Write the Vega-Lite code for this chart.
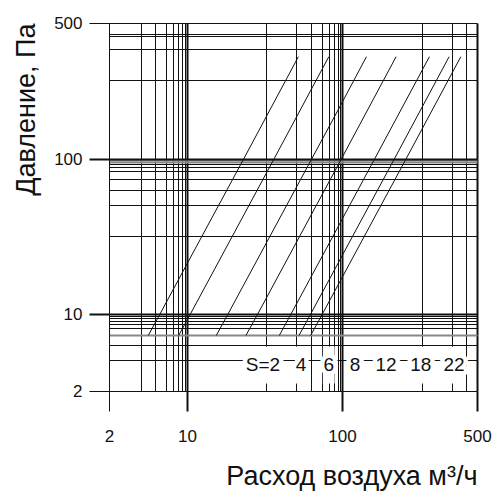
{
  "$schema": "https://vega.github.io/schema/vega-lite/v6.json",
  "width": 368,
  "height": 368,
  "autosize": {"type": "none"},
  "padding": {"left": 109, "top": 23, "right": 23, "bottom": 109},
  "background": "white",
  "datasets": {
    "lines": [
      {"s": 2, "flow": 4.5, "pressure": 6.39},
      {"s": 2, "flow": 5.73, "pressure": 10},
      {"s": 2, "flow": 10, "pressure": 21.05},
      {"s": 2, "flow": 23.2, "pressure": 100},
      {"s": 2, "flow": 52.3, "pressure": 335.5},
      {"s": 4, "flow": 8.43, "pressure": 6.39},
      {"s": 4, "flow": 10, "pressure": 8.78},
      {"s": 4, "flow": 10.52, "pressure": 10},
      {"s": 4, "flow": 36.4, "pressure": 100},
      {"s": 4, "flow": 82.2, "pressure": 335.5},
      {"s": 6, "flow": 15.45, "pressure": 6.39},
      {"s": 6, "flow": 18.39, "pressure": 10},
      {"s": 6, "flow": 63.7, "pressure": 100},
      {"s": 6, "flow": 100, "pressure": 194.7},
      {"s": 6, "flow": 133.8, "pressure": 335.5},
      {"s": 8, "flow": 24.0, "pressure": 6.39},
      {"s": 8, "flow": 28.6, "pressure": 10},
      {"s": 8, "flow": 99.0, "pressure": 100},
      {"s": 8, "flow": 100, "pressure": 101.5},
      {"s": 8, "flow": 190.6, "pressure": 335.5},
      {"s": 12, "flow": 39.4, "pressure": 6.39},
      {"s": 12, "flow": 46.9, "pressure": 10},
      {"s": 12, "flow": 100, "pressure": 40.7},
      {"s": 12, "flow": 147.5, "pressure": 100},
      {"s": 12, "flow": 283.5, "pressure": 335.5},
      {"s": 18, "flow": 52.8, "pressure": 6.39},
      {"s": 18, "flow": 62.8, "pressure": 10},
      {"s": 18, "flow": 100, "pressure": 23.7},
      {"s": 18, "flow": 186.6, "pressure": 100},
      {"s": 18, "flow": 358.6, "pressure": 335.5},
      {"s": 22, "flow": 62.8, "pressure": 6.39},
      {"s": 22, "flow": 74.7, "pressure": 10},
      {"s": 22, "flow": 100, "pressure": 17.15},
      {"s": 22, "flow": 214.5, "pressure": 100},
      {"s": 22, "flow": 412.3, "pressure": 335.5}
    ],
    "labels": [
      {"s": 2, "label": "S=2", "flow": 30.9, "pressure": 3.44},
      {"s": 4, "label": "4", "flow": 54.4, "pressure": 3.44},
      {"s": 6, "label": "6", "flow": 82.1, "pressure": 3.44},
      {"s": 8, "label": "8", "flow": 116.8, "pressure": 3.44},
      {"s": 12, "label": "12", "flow": 169, "pressure": 3.44},
      {"s": 18, "label": "18", "flow": 256, "pressure": 3.44},
      {"s": 22, "label": "22", "flow": 380, "pressure": 3.44}
    ]
  },
  "encoding": {
    "x": {
      "field": "flow",
      "type": "quantitative",
      "scale": {
        "type": "log",
        "domain": [2, 10, 100, 500],
        "range": [0, 78, 233, 368],
        "nice": false,
        "zero": false
      },
      "axis": {
        "values": [2, 3.87, 5.17, 6.49, 7.48, 8.3, 9.02, 9.6, 10, 32.3, 50.5, 63.1, 74.3, 82.4, 88.8, 94.2, 97.1, 100, 259, 372, 439, 500],
        "grid": true,
        "gridColor": "#111",
        "gridOpacity": 1,
        "gridWidth": {"condition": {"test": "datum.value == 10 || datum.value == 100 || datum.value == 500", "value": 2}, "value": 1},
        "ticks": true,
        "tickSize": 20,
        "tickColor": "#111",
        "tickOpacity": {"condition": {"test": "indexof([2, 10, 100, 500], datum.value) >= 0", "value": 1}, "value": 0},
        "tickWidth": {"condition": {"test": "datum.value == 10 || datum.value == 100 || datum.value == 500", "value": 2}, "value": 1},
        "domainColor": "#111",
        "labelExpr": "indexof([2, 10, 100, 500], datum.value) >= 0 ? format(datum.value, 'd') : ''",
        "labelFontSize": 17,
        "labelPadding": 17,
        "labelColor": "#111",
        "labelOverlap": false,
        "labelFlush": false,
        "labelBound": false,
        "title": "Расход воздуха м³/ч",
        "titleFontSize": 27,
        "titleFontWeight": "normal",
        "titleColor": "#111",
        "titleAnchor": "end",
        "titlePadding": 19
      }
    },
    "y": {
      "field": "pressure",
      "type": "quantitative",
      "scale": {
        "type": "log",
        "domain": [2, 10, 100, 500],
        "range": [368, 291, 136, 0],
        "nice": false,
        "zero": false
      },
      "axis": {
        "values": [2, 3.79, 5.27, 6.39, 7.49, 8.14, 8.71, 9.21, 9.6, 10, 32, 50.7, 63.1, 74.6, 83.7, 89.2, 92.8, 95.6, 98.5, 100, 254.7, 368.8, 428.6, 440.5, 500],
        "grid": true,
        "gridColor": {"condition": {"test": "datum.value == 6.39 || datum.value == 95.6 || datum.value == 98.5", "value": "#888"}, "value": "#111"},
        "gridOpacity": 1,
        "gridWidth": {"condition": {"test": "indexof([10, 100, 6.39, 95.6, 98.5], datum.value) >= 0", "value": 2}, "value": 1},
        "ticks": true,
        "tickSize": 20,
        "tickColor": "#111",
        "tickOpacity": {"condition": {"test": "indexof([2, 10, 100, 500], datum.value) >= 0", "value": 1}, "value": 0},
        "tickWidth": {"condition": {"test": "datum.value == 10 || datum.value == 100", "value": 2}, "value": 1},
        "domainColor": "#111",
        "labelExpr": "indexof([2, 10, 100, 500], datum.value) >= 0 ? format(datum.value, 'd') : ''",
        "labelFontSize": 17,
        "labelPadding": 7,
        "labelColor": "#111",
        "labelOverlap": false,
        "labelFlush": false,
        "labelBound": false,
        "title": "Давление, Па",
        "titleFontSize": 27,
        "titleFontWeight": "normal",
        "titleColor": "#111",
        "titleAnchor": "end",
        "titlePadding": 13
      }
    }
  },
  "layer": [
    {
      "data": {"name": "lines"},
      "mark": {"type": "line", "color": "#111", "strokeWidth": 1},
      "encoding": {"detail": {"field": "s", "type": "nominal"}}
    },
    {
      "data": {"name": "labels"},
      "mark": {"type": "point", "shape": "M-0.32,-1H0.32V1H-0.32Z", "filled": true, "color": "white", "opacity": 1, "size": 1369, "strokeWidth": 0}
    },
    {
      "data": {"name": "labels"},
      "mark": {"type": "text", "fontSize": 19, "align": "center", "baseline": "middle", "fill": "white", "stroke": "white", "strokeWidth": 9, "strokeJoin": "round"},
      "encoding": {"text": {"field": "label", "type": "nominal"}}
    },
    {
      "data": {"name": "labels"},
      "mark": {"type": "text", "fontSize": 19, "align": "center", "baseline": "middle", "color": "#111"},
      "encoding": {"text": {"field": "label", "type": "nominal"}}
    }
  ],
  "config": {
    "font": "Liberation Sans",
    "view": {"stroke": null}
  }
}
